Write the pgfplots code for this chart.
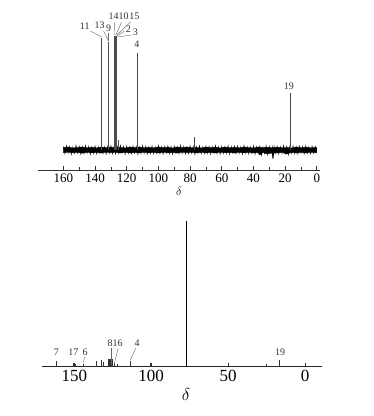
\documentclass[border=0pt]{standalone}
\usepackage{pgfplots}
\pgfplotsset{compat=1.18}
\usepackage{fontspec}
\setmainfont{Liberation Serif}
\begin{document}
\begin{tikzpicture}
\path[use as bounding box] (0pt,0pt) rectangle (374pt,416pt);
% ---------------- top spectrum ----------------
\begin{axis}[
 at={(38pt,246pt)}, anchor=south west, scale only axis, width=282pt, height=162pt,
 xmin=-2, xmax=176, ymin=-20, ymax=142, x dir=reverse,
 axis x line=bottom, axis y line=none, axis line style={-, black!80, line width=0.8pt},
 xtick={0,20,...,160}, minor x tick num=1, tick align=inside,
 major tick length=4pt, minor tick length=2.5pt,
 tick style={black!80, line width=0.7pt},
 ticklabel style={font=\fontsize{13}{15}\selectfont},
 /pgf/number format/assume math mode=true,
 xlabel={$\delta$}, xlabel style={font=\fontsize{12}{14}\selectfont, yshift=2pt},
 clip=false,
]
% noise band
\addplot[fill=black, draw=black, line width=0.3pt] coordinates {
(160,2.5) (157,3) (154,2) (151,2.5) (148,3) (145,2.2) (142,2.8) (139,2) (136,3) (133,2.4)
(130,3) (127,2.2) (124,2.6) (121,2) (118,3) (115,2.4) (112,3) (109,2.2) (106,2.7) (103,2.1)
(100,3) (97,2.3) (94,2.8) (91,2) (88,3) (85,2.4) (82,3) (79,2.2) (76,2.6) (73,2)
(70,3) (67,2.3) (64,2.9) (61,2) (58,3) (55,2.2) (52,2.7) (49,2.1) (46,3) (43,2.4)
(40,2) (37,3) (34,2.4) (31,2.8) (28,2.1) (25,3) (22,2.2) (19,2.6) (16,2) (13,3)
(10,2.4) (7,2.9) (4,2.1) (1,2.6) (0,2.2)
(0,-2.4) (1,-2.8) (4,-2.2) (7,-3) (10,-2.4) (13,-3) (16,-2.5) (19,-4) (22,-2.4) (25,-3)
(27,-2.8) (27.7,-8) (28.4,-2.8) (31,-4) (34,-2.5) (36,-5) (37,-2.6) (40,-3) (43,-2.4) (46,-2.9)
(49,-2.2) (52,-3) (55,-2.5) (58,-2.8) (61,-2.2) (64,-3) (67,-2.5) (70,-2.9) (73,-2.3) (76,-3)
(79,-2.4) (82,-2.7) (85,-2.2) (88,-3) (91,-2.5) (94,-2.8) (97,-2.3) (100,-3) (103,-2.4) (106,-2.9)
(109,-2.2) (112,-3) (115,-2.6) (118,-2.9) (121,-2.3) (124,-3) (127,-2.4) (130,-2.7) (133,-2.2) (136,-3)
(139,-2.5) (142,-2.8) (145,-2.3) (148,-3.2) (151,-2.4) (154,-2.8) (157,-2.2) (160,-2.6)
} -- cycle;
\addplot[black, line width=0.5pt, mark=none] coordinates {
(160,3.5) (159,-3.8) (158,4.2) (157,-3) (156,3.6) (155,-4.4) (154,3.1) (153,-3.5) (152,4.6) (151,-3.2)
(150,3.9) (149,-4.1) (148,3.3) (147,-3.6) (146,4.4) (145,-3.1) (144,3.7) (143,-4.5) (142,3.2) (141,-3.4)
(140,4.1) (139,-3.9) (138,3.4) (137,-3.2) (136,4.5) (135,-3.7) (134,3.1) (133,-4.2) (132,3.8) (131,-3.3)
(130,4.3) (129,-3.6) (128,3.2) (127,-4) (126,3.7) (125,-3.4) (124,4.6) (123,-3.1) (122,3.5) (121,-4.3)
(120,3.9) (119,-3.5) (118,3.3) (117,-3.8) (116,4.2) (115,-3.2) (114,3.6) (113,-4.4) (112,3.1) (111,-3.6)
(110,4.4) (109,-3.3) (108,3.8) (107,-4.1) (106,3.4) (105,-3.5) (104,4.1) (103,-3.9) (102,3.2) (101,-3.3)
(100,4.5) (99,-3.7) (98,3.3) (97,-4.2) (96,3.7) (95,-3.1) (94,4.3) (93,-3.6) (92,3.4) (91,-4.4)
(90,3.9) (89,-3.2) (88,3.2) (87,-3.8) (86,4.6) (85,-3.4) (84,3.5) (83,-4) (82,3.1) (81,-3.5)
(80,4.2) (79,-3.3) (78,3.6) (77,-4.5) (76,3.3) (75,-3.2) (74,4.4) (73,-3.9) (72,3.1) (71,-3.6)
(70,4) (69,-3.4) (68,3.7) (67,-4.3) (66,3.4) (65,-3.1) (64,4.5) (63,-3.8) (62,3.2) (61,-4.1)
(60,3.8) (59,-3.5) (58,3.3) (57,-3.3) (56,4.3) (55,-4.4) (54,3.5) (53,-3.2) (52,3.9) (51,-3.7)
(50,4.1) (49,-3.4) (48,3.2) (47,-4.2) (46,4.6) (45,-3.1) (44,3.6) (43,-3.9) (42,3.3) (41,-3.5)
(40,4.2) (39,-4.4) (38,3.4) (37,-3.3) (36,3.9) (35,-5.5) (34,3.1) (33,-3.6) (32,4.4) (31,-4.8)
(30,3.7) (29,-3.2) (28,3.3) (27.7,-9) (27,4) (26,-3.4) (25,3.6) (24,-4.1) (23,3.2) (22,-3.5)
(21,4.5) (20,-3.9) (19,3.4) (18,-5) (17,3.8) (16,-3.3) (15,4.1) (14,-3.6) (13,3.3) (12,-4.2)
(11,3.9) (10,-3.1) (9,3.5) (8,-4) (7,4.4) (6,-3.4) (5,3.2) (4,-3.7) (3,4) (2,-3.2) (1,3.6) (0,-3)
};
% peaks
\addplot[ycomb, black!70, line width=0.8pt, mark=none] coordinates {
(135.8,112) (131.4,108) (128.0,114) (127.4,114) (126.8,114) (126.2,114) (125.2,10)
(113.2,97) (77.4,13) (16.4,57)
};
% labels and leaders
\begin{scope}[every node/.style={font=\fontsize{10}{12}\selectfont, inner sep=0pt, text=black!80}]
\node at (axis cs:146.5,124) {11};
\node at (axis cs:137.1,125) {13};
\node at (axis cs:131.4,122) {9};
\node at (axis cs:128.3,134) {14};
\node at (axis cs:122,134) {10};
\node at (axis cs:115.1,134) {15};
\node at (axis cs:118.9,121) {2};
\node at (axis cs:114.5,118) {3};
\node at (axis cs:113.6,106) {4};
\node at (axis cs:17.6,64) {19};
\end{scope}
\begin{scope}[black!60, line width=0.4pt]
\draw (axis cs:143,119) -- (axis cs:135.8,113);
\draw (axis cs:134.6,119) -- (axis cs:131.6,109);
\draw (axis cs:131.4,117) -- (axis cs:131.4,109);
\draw (axis cs:127.7,128) -- (axis cs:127.5,115);
\draw (axis cs:123.3,128) -- (axis cs:126.8,115);
\draw (axis cs:117.6,128) -- (axis cs:126.2,115);
\draw (axis cs:121.4,119) -- (axis cs:126,114);
\draw (axis cs:117,115) -- (axis cs:125.8,113);
\end{scope}
\end{axis}
% ---------------- bottom spectrum ----------------
\begin{axis}[
 at={(42pt,49pt)}, anchor=south west, scale only axis, width=280pt, height=150pt,
 xmin=-11, xmax=171, ymin=0, ymax=150, x dir=reverse,
 axis x line=bottom, axis y line=none, axis line style={-, black!85, line width=1pt},
 xtick={0,50,100,150}, tick align=inside,
 major tick length=4pt,
 tick style={black!80, line width=0.7pt},
 ticklabel style={font=\fontsize{17}{19}\selectfont},
 /pgf/number format/assume math mode=true,
 xlabel={$\delta$}, xlabel style={font=\fontsize{16}{18}\selectfont, xshift=4pt},
 clip=false,
]
\addplot[ycomb, black!80, line width=0.7pt, mark=none] coordinates {
(161.5,6) (150.5,4) (149.5,3) (144,3) (135.7,6) (132.5,7) (131.2,5)
(127.9,8) (127.3,8) (126.7,8) (126.1,8) (125.3,8) (124,4) (122,3)
(113.6,6) (100.6,4) (25,3) (16.5,7)
};
\addplot[ycomb, black, line width=1.4pt, mark=none] coordinates {(77.2,146)};
\begin{scope}[every node/.style={font=\fontsize{10}{12}\selectfont, inner sep=0pt, text=black!80}]
\node at (axis cs:161.7,15) {7};
\node at (axis cs:150.6,15) {17};
\node at (axis cs:142.9,15) {6};
\node at (axis cs:123.4,24) {816};
\node at (axis cs:109.1,24) {4};
\node at (axis cs:16.2,15) {19};
\end{scope}
\begin{scope}[black!60, line width=0.4pt]
\draw (axis cs:126.3,19) -- (axis cs:126.3,2);
\draw (axis cs:121.5,19) -- (axis cs:124,3);
\draw (axis cs:110,19) -- (axis cs:113.6,7);
\draw (axis cs:143.4,10) -- (axis cs:144,4);
\end{scope}
\end{axis}
\end{tikzpicture}
\end{document}
